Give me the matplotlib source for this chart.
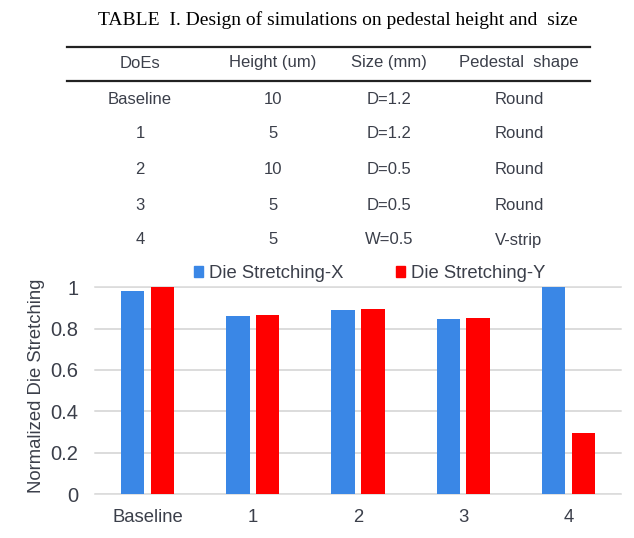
import matplotlib
matplotlib.use("Agg")
import matplotlib.pyplot as plt
from matplotlib.lines import Line2D
from matplotlib.patches import Patch
import numpy as np

# ---------------- data ----------------
table_title = "TABLE  I. Design of simulations on pedestal height and  size"
table_header = ["DoEs", "Height (um)", "Size (mm)", "Pedestal  shape"]
col_does = ["Baseline", "1", "2", "3", "4"]
col_height = ["10", "5", "10", "5", "5"]
col_size = ["D=1.2", "D=1.2", "D=0.5", "D=0.5", "W=0.5"]
col_shape = ["Round", "Round", "Round", "Round", "V-strip"]

categories = ["Baseline", "1", "2", "3", "4"]
stretch_x = [0.98, 0.86, 0.89, 0.845, 1.00]
stretch_y = [1.00, 0.865, 0.897, 0.853, 0.293]
series_names = ["Die Stretching-X", "Die Stretching-Y"]
yticks = [0, 0.2, 0.4, 0.6, 0.8, 1]
ytick_labels = ["0", "0.2", "0.4", "0.6", "0.8", "1"]

# ---------------- figure ----------------
W, H = 634, 538
fig = plt.figure(figsize=(W / 100, H / 100), dpi=100)
fig.patch.set_facecolor("white")

def fx(px):
    return px / W

def fy(py):
    return 1 - py / H

sans = ["Liberation Sans", "DejaVu Sans"]
serif = ["Liberation Serif", "DejaVu Serif"]
txt_col = "#3b3f4a"

# table
fig.text(fx(338), fy(20), table_title, family=serif, fontsize=14,
         ha="center", va="center", color="black")
for yy in (47, 81):
    fig.add_artist(Line2D([fx(67), fx(590)], [fy(yy), fy(yy)], color="#222222",
                          lw=1.6, transform=fig.transFigure))
col_x = [140, 273, 389, 519]
for x, t in zip(col_x, table_header):
    fig.text(fx(x), fy(63), t, family=sans, fontsize=12, ha="center",
             va="center", color=txt_col)
row_y = [99, 134, 169, 205, 240]
for i, ry in enumerate(row_y):
    vals = [col_does[i], col_height[i], col_size[i], col_shape[i]]
    for x, t in zip(col_x, vals):
        fig.text(fx(x), fy(ry), t, family=sans, fontsize=12, ha="center",
                 va="center", color=txt_col)

# chart
ax = fig.add_axes([fx(95), fy(494), fx(621) - fx(95), fy(287.3) - fy(494)])
xpos = np.arange(len(categories))
bw = 0.223
off = 0.142
c_blue = "#3a87e6"
c_red = "#ff0000"
ax.bar(xpos - off, stretch_x, bw, color=c_blue, zorder=3, clip_on=False)
ax.bar(xpos + off, stretch_y, bw, color=c_red, zorder=3, clip_on=False)
ax.set_xlim(-0.5, len(categories) - 0.5)
ax.set_ylim(0, 1)
ax.set_yticks(yticks)
ax.set_yticklabels(ytick_labels, family=sans, fontsize=14.5, color=txt_col)
ax.set_xticks(xpos)
ax.set_xticklabels(categories, family=sans, fontsize=13.3, color=txt_col)
ax.tick_params(length=0, pad=12)
ax.tick_params(axis="x", pad=11)
for s in ax.spines.values():
    s.set_visible(False)
ax.yaxis.grid(True, color="#dcdcdc", lw=1.2, zorder=0)
ax.set_axisbelow(True)
for yv in yticks:
    ax.axhline(yv, color="#dcdcdc", lw=1.2, zorder=0, clip_on=False)
ax.set_ylabel("Normalized Die Stretching", family=sans, fontsize=13.3,
              color=txt_col)
ax.yaxis.set_label_coords(-0.095, 0.522)

handles = [Patch(color=c_blue), Patch(color=c_red)]
leg = fig.legend(handles, series_names, loc="center", bbox_to_anchor=(fx(370), fy(273.5)),
                 ncol=2, frameon=False, handlelength=0.45, handleheight=0.6,
                 handletextpad=0.35, columnspacing=2.85,
                 prop={"family": sans, "size": 13.3})
for t in leg.get_texts():
    t.set_color(txt_col)

fig.savefig("out.png", dpi=100, facecolor="white")
